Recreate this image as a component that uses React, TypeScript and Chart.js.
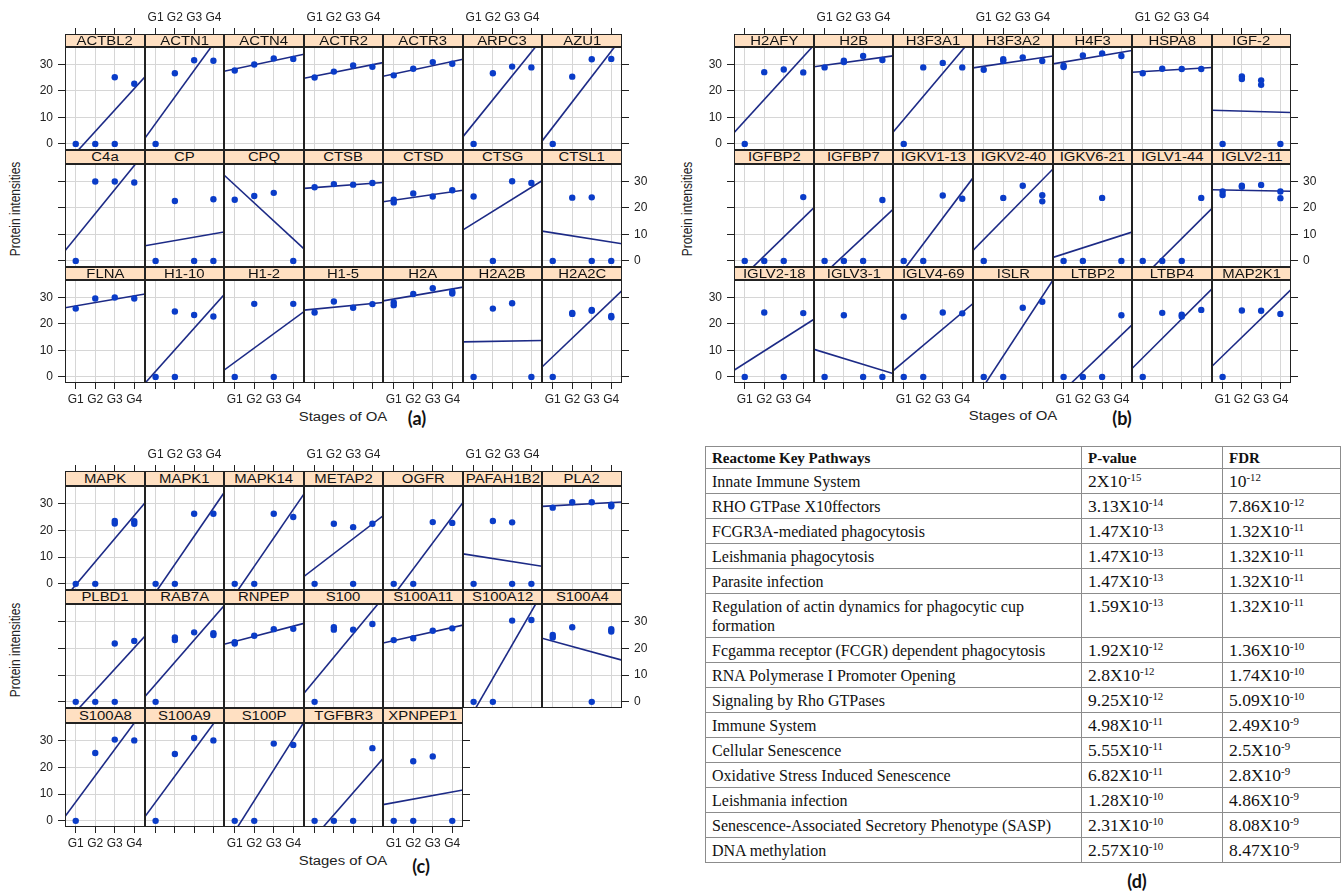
import React, { useEffect, useRef } from "react";
import { Chart, registerables } from "chart.js";

Chart.register(...registerables);

// ---------------- shared axis data ----------------
const STAGES = [1, 2, 3, 4];
const STAGE_LABELS = ["G1", "G2", "G3", "G4"];
const Y_TICKS = [0, 10, 20, 30];
const X_LIMITS = [0.45, 4.55];
const Y_LIMITS = [-2.3, 36.6];
const X_TITLE = "Stages of OA";
const Y_TITLE = "Protein intensities";

// ---------------- panel (a) ----------------
const proteinsA = ["ACTBL2", "ACTN1", "ACTN4", "ACTR2", "ACTR3", "ARPC3", "AZU1", "C4a", "CP", "CPQ", "CTSB", "CTSD", "CTSG", "CTSL1", "FLNA", "H1-10", "H1-2", "H1-5", "H2A", "H2A2B", "H2A2C"];
// intensities per stage G1..G4 (replicates listed inside each stage)
const intensitiesA: number[][][] = [
  [[0], [0], [25.2, 0], [22.7]],
  [[0], [26.7], [31.6], [31.4]],
  [[27.7], [30.0], [32.3], [32.1]],
  [[25.1], [27.3], [29.6], [29.1]],
  [[25.9], [28.4], [30.9], [30.3]],
  [[0], [26.7], [29.2], [28.9]],
  [[0], [25.4], [32.0], [32.1]],
  [[0], [30.0], [30.0], [29.6]],
  [[0], [22.6], [0], [23.3, 0]],
  [[23.1], [24.5], [25.7], [0]],
  [[27.8], [29.0], [28.8], [29.4]],
  [[23.1, 22.1], [25.5], [24.3], [26.7]],
  [[24.3], [0], [30.1], [29.4]],
  [[0], [23.9], [24.0, 0], [0]],
  [[25.8], [29.6], [30.0], [29.6]],
  [[0], [24.7, 0], [23.4], [22.8]],
  [[0], [27.6], [0], [27.6]],
  [[24.3], [28.5], [26.1], [27.5]],
  [[27.1, 28.1], [31.3], [33.5], [31.5, 32.2]],
  [[0], [25.8], [27.8], [0]],
  [[0], [24.2, 23.8], [25.3, 25.0], [23.0, 22.5]],
];
// fitted trend value at G1 and at G4
const fitA: number[][] = [
  [-3.4, 20.9], [7.7, 37.8], [28.3, 33.0], [25.6, 29.9], [26.4, 31.1], [7.7, 34.7], [6.3, 35.0],
  [8.8, 36.0], [6.4, 10.2], [28.7, 8.3], [27.7, 29.3], [22.9, 26.1], [14.2, 27.8], [10.6, 7.1],
  [26.8, 30.6], [2.1, 26.5], [5.5, 21.7], [25.6, 27.7], [29.4, 33.2], [13.3, 13.7], [7.6, 28.7],
];

// ---------------- panel (b) ----------------
const proteinsB = ["H2AFY", "H2B", "H3F3A1", "H3F3A2", "H4F3", "HSPA8", "IGF-2", "IGFBP2", "IGFBP7", "IGKV1-13", "IGKV2-40", "IGKV6-21", "IGLV1-44", "IGLV2-11", "IGLV2-18", "IGLV3-1", "IGLV4-69", "ISLR", "LTBP2", "LTBP4", "MAP2K1"];
const intensitiesB: number[][][] = [
  [[0], [27.1], [28.1], [27.0]],
  [[28.9], [31.4, 30.9], [33.2], [31.7]],
  [[0], [28.9], [30.6], [28.9]],
  [[28.0], [32.0, 31.3], [32.7], [31.3]],
  [[29.5, 29.0], [33.4], [34.2], [33.2]],
  [[26.7], [28.4], [28.3], [28.3]],
  [[0], [25.5, 24.5], [24.0, 22.3], [0]],
  [[0], [0], [0], [24.1]],
  [[0], [0], [0], [23.0]],
  [[0], [0], [24.7], [23.5]],
  [[0], [23.8], [28.4], [24.8, 22.5]],
  [[0], [0], [23.8], [0]],
  [[0], [0], [0], [23.8]],
  [[26.2, 24.9], [28.0, 28.4], [28.7], [26.2, 23.7]],
  [[0], [24.3], [0], [24.1]],
  [[0], [23.3], [0], [0]],
  [[22.7, 0], [0], [24.3], [24.0]],
  [[0], [0], [26.1], [28.4]],
  [[0], [0], [0], [23.3]],
  [[0], [24.2], [23.5, 22.8], [25.3]],
  [[0], [25.1], [25.0], [23.8]],
];
const fitB: number[][] = [
  [8.7, 32.9], [29.7, 32.7], [9.2, 35.4], [29.3, 32.6], [30.9, 34.6], [27.3, 28.6], [12.6, 12.0],
  [-5.3, 16.2], [-4.7, 15.7], [-3.4, 26.0], [8.1, 30.6], [2.6, 9.6], [-6.2, 15.8], [26.8, 26.4],
  [5.1, 19.2], [9.2, 2.5], [5.7, 24.3], [-3.4, 30.4], [-5.1, 15.8], [7.2, 29.2], [7.9, 29.1],
];

// ---------------- panel (c) ----------------
const proteinsC = ["MAPK", "MAPK1", "MAPK14", "METAP2", "OGFR", "PAFAH1B2", "PLA2", "PLBD1", "RAB7A", "RNPEP", "S100", "S100A11", "S100A12", "S100A4", "S100A8", "S100A9", "S100P", "TGFBR3", "XPNPEP1"];
const intensitiesC: number[][][] = [
  [[0], [0], [23.5, 22.6], [23.4, 22.5]],
  [[0], [0], [26.2], [26.2]],
  [[0], [0], [26.2], [25.0]],
  [[0], [22.5], [21.2, 0], [22.5]],
  [[0], [0], [23.1], [22.8]],
  [[0], [23.5], [23.0, 0], [0]],
  [[28.5], [30.5], [30.5], [29.6, 29.0]],
  [[0], [0], [21.8, 0], [22.8]],
  [[0], [24.1, 23.1], [26.0], [25.7, 25.0]],
  [[22.3, 21.8], [24.7], [27.2], [27.3]],
  [[0], [27.9, 27.0], [27.0], [29.1]],
  [[23.1], [23.8], [26.6], [27.5]],
  [[0], [0], [30.4], [30.6]],
  [[25.0, 24.1], [27.9], [0], [27.2, 26.3]],
  [[0], [25.4], [30.4], [30.1]],
  [[0], [25.0], [31.0], [30.1]],
  [[0], [0], [28.9], [28.4]],
  [[0], [0], [0], [27.2]],
  [[0], [22.3, 0], [24.1], [0]],
];
const fitC: number[][] = [
  [-0.4, 25.6], [-3.2, 28.3], [-4.1, 27.8], [5.8, 22.4], [-4.2, 25.1], [10.6, 7.2], [29.2, 30.4],
  [-3.7, 20.2], [6.6, 31.4], [22.6, 28.3], [8.0, 34.1], [22.9, 27.8], [-3.7, 33.8], [22.7, 16.7],
  [7.0, 36.6], [7.0, 36.3], [-4.0, 30.6], [-6.0, 18.8], [6.8, 10.8],
];

// ---------------- table (d) ----------------
const tableHeader = ["Reactome Key Pathways", "P-value", "FDR"];
const pathways = [
  "Innate Immune System",
  "RHO GTPase X10ffectors",
  "FCGR3A-mediated phagocytosis",
  "Leishmania phagocytosis",
  "Parasite infection",
  "Regulation of actin dynamics for phagocytic cup formation",
  "Fcgamma receptor (FCGR) dependent phagocytosis",
  "RNA Polymerase I Promoter Opening",
  "Signaling by Rho GTPases",
  "Immune System",
  "Cellular Senescence",
  "Oxidative Stress Induced Senescence",
  "Leishmania infection",
  "Senescence-Associated Secretory Phenotype (SASP)",
  "DNA methylation",
];
const pValues = ["2X10^-15", "3.13X10^-14", "1.47X10^-13", "1.47X10^-13", "1.47X10^-13", "1.59X10^-13", "1.92X10^-12", "2.8X10^-12", "9.25X10^-12", "4.98X10^-11", "5.55X10^-11", "6.82X10^-11", "1.28X10^-10", "2.31X10^-10", "2.57X10^-10"];
const fdrValues = ["10^-12", "7.86X10^-12", "1.32X10^-11", "1.32X10^-11", "1.32X10^-11", "1.32X10^-11", "1.36X10^-10", "1.74X10^-10", "5.09X10^-10", "2.49X10^-9", "2.5X10^-9", "2.8X10^-9", "4.86X10^-9", "8.08X10^-9", "8.47X10^-9"];

// ---------------- styling / layout ----------------
const INK = "#222222";
const GRID = "#d6d6d6";
const POINT = "#0a3cc8";
const LINE = "#1c2a86";
const STRIP_BG = "#ffe0c2";
const SANS = "'Liberation Sans', Arial, Helvetica, sans-serif";
const SERIF = "'Liberation Serif', 'Times New Roman', serif";
const TICK_FONT = { family: SANS, size: 12 };
const PER_ROW = 7;
const AXIS_W = 30;
const Y_TICK_LEN = 7;
const Y_TICK_PAD = 5;
const X_TICK_LEN = 6;
const X_TICK_PAD = 3;
const X_LABEL_H = 15;

type Geom = { left: number; colW: number; top: number; pitch: number; stripH: number; plotH: number; yTitleX: number; xTitleY: number; tag: string; tagX: number; tagY: number };
const GEOM_A: Geom = { left: 65.2, colW: 79.5, top: 33.5, pitch: 116.5, stripH: 13.5, plotH: 103, yTitleX: 15, xTitleY: 417, tag: "(a)", tagX: 417, tagY: 418 };
const GEOM_B: Geom = { left: 734, colW: 79.64, top: 33.5, pitch: 116.5, stripH: 13.5, plotH: 103, yTitleX: 687, xTitleY: 416, tag: "(b)", tagX: 1122, tagY: 418 };
const GEOM_C: Geom = { left: 65.2, colW: 79.5, top: 471, pitch: 118.5, stripH: 14.5, plotH: 104, yTitleX: 15, xTitleY: 861, tag: "(c)", tagX: 421, tagY: 866 };

const GROUPS = [
  { names: proteinsA, values: intensitiesA, fits: fitA, geom: GEOM_A },
  { names: proteinsB, values: intensitiesB, fits: fitB, geom: GEOM_B },
  { names: proteinsC, values: intensitiesC, fits: fitC, geom: GEOM_C },
];

type Flags = { top: boolean; topLabels: boolean; bottom: boolean; bottomLabels: boolean; left: boolean; leftLabels: boolean; right: boolean; rightLabels: boolean };

const framePlugin = {
  id: "panelFrame",
  afterDraw(chart: any) {
    const { ctx, chartArea: a } = chart;
    ctx.save();
    ctx.strokeStyle = INK;
    ctx.lineWidth = 1;
    ctx.strokeRect(a.left + 0.5, a.top + 0.5, a.right - a.left - 1, a.bottom - a.top - 1);
    ctx.restore();
  },
};

function stageLabel(v: any) {
  const i = STAGES.indexOf(Number(v));
  return i >= 0 ? STAGE_LABELS[i] : "";
}

function zeroPadding(s: any) {
  s.paddingLeft = 0;
  s.paddingRight = 0;
  s.paddingTop = 0;
  s.paddingBottom = 0;
}

function xScale(position: string, show: boolean, drawTicks: boolean, labels: boolean, tickLength: number, size: number, onArea: boolean) {
  return {
    type: "linear",
    position,
    display: show,
    min: X_LIMITS[0],
    max: X_LIMITS[1],
    afterBuildTicks: (s: any) => { s.ticks = STAGES.map((v) => ({ value: v })); },
    afterFit: (s: any) => { s.height = show ? size : 0; zeroPadding(s); },
    border: { display: false },
    grid: { display: true, drawOnChartArea: onArea, color: GRID, lineWidth: 1, drawTicks, tickLength, tickColor: INK, tickWidth: 1 },
    ticks: { display: labels, autoSkip: false, maxRotation: 0, minRotation: 0, padding: X_TICK_PAD, color: INK, font: TICK_FONT, callback: stageLabel },
  };
}

function yScale(position: string, show: boolean, drawTicks: boolean, labels: boolean, size: number, onArea: boolean) {
  return {
    type: "linear",
    position,
    display: show,
    min: Y_LIMITS[0],
    max: Y_LIMITS[1],
    afterBuildTicks: (s: any) => { s.ticks = Y_TICKS.map((v) => ({ value: v })); },
    afterFit: (s: any) => { s.width = show ? size : 0; zeroPadding(s); },
    border: { display: false },
    grid: { display: true, drawOnChartArea: onArea, color: GRID, lineWidth: 1, drawTicks, tickLength: Y_TICK_LEN, tickColor: INK, tickWidth: 1 },
    ticks: { display: labels, autoSkip: false, padding: Y_TICK_PAD, color: INK, font: TICK_FONT, callback: (v: any) => String(v) },
  };
}

type CellProps = { name: string; values: number[][]; fit: number[]; plotL: number; plotR: number; stripT: number; plotT: number; plotB: number; flags: Flags };

function Cell({ name, values, fit, plotL, plotR, stripT, plotT, plotB, flags }: CellProps) {
  const ref = useRef<HTMLCanvasElement>(null);
  const stripH = plotT - stripT;
  const topH = stripH + X_TICK_LEN + 4 + X_LABEL_H;
  const botH = X_TICK_LEN + X_TICK_PAD + X_LABEL_H;
  const cl = plotL - (flags.left ? AXIS_W : 0);
  const cr = plotR + (flags.right ? AXIS_W : 0);
  const ct = plotT - (flags.top ? topH : 0);
  const cb = plotB + (flags.bottom ? botH : 0);
  const w = cr - cl;
  const h = cb - ct;

  useEffect(() => {
    const points = values.flatMap((vals, i) => vals.map((v) => ({ x: STAGES[i], y: v })));
    const slope = (fit[1] - fit[0]) / (STAGES[STAGES.length - 1] - STAGES[0]);
    const trend = X_LIMITS.map((x) => ({ x, y: fit[0] + slope * (x - STAGES[0]) }));
    const chart = new Chart(ref.current as HTMLCanvasElement, {
      type: "scatter",
      data: {
        datasets: [
          { label: name, data: points, pointRadius: 3.2, pointHoverRadius: 3.2, backgroundColor: POINT, borderColor: POINT, borderWidth: 0, clip: false } as any,
          { label: name + " trend", data: trend, showLine: true, pointRadius: 0, borderColor: LINE, borderWidth: 1.6, fill: false, tension: 0, clip: 0 } as any,
        ],
      },
      options: {
        animation: false,
        responsive: false,
        maintainAspectRatio: false,
        devicePixelRatio: 1,
        events: [],
        layout: { padding: 0, autoPadding: false } as any,
        plugins: { legend: { display: false }, tooltip: { enabled: false }, title: { display: false } },
        scales: {
          x: xScale("bottom", true, flags.bottom, flags.bottomLabels, X_TICK_LEN, flags.bottom ? botH : 0, true),
          xTop: xScale("top", flags.top, flags.top, flags.topLabels, stripH + X_TICK_LEN, topH, false),
          y: yScale("left", true, flags.left, flags.leftLabels, flags.left ? AXIS_W : 0, true),
          yRight: yScale("right", flags.right, flags.right, flags.rightLabels, AXIS_W, false),
        } as any,
      },
      plugins: [framePlugin],
    });
    return () => chart.destroy();
  }, []);

  return (
    <>
      <canvas ref={ref} width={w} height={h} style={{ position: "absolute", left: cl, top: ct, width: w, height: h }} />
      <div
        style={{
          position: "absolute",
          left: plotL,
          top: stripT,
          width: plotR - plotL,
          height: stripH,
          boxSizing: "border-box",
          border: `1px solid ${INK}`,
          background: STRIP_BG,
          display: "flex",
          alignItems: "center",
          justifyContent: "center",
          overflow: "visible",
          zIndex: 2,
        }}
      >
        <span style={{ fontFamily: SANS, fontSize: 12, lineHeight: "12px", color: "#111", transform: "scaleX(1.24)", whiteSpace: "nowrap", display: "inline-block" }}>{name}</span>
      </div>
    </>
  );
}

function Lattice({ names, values, fits, geom }: { names: string[]; values: number[][][]; fits: number[][]; geom: Geom }) {
  const nRows = Math.ceil(names.length / PER_ROW);
  const cells = names.map((name, idx) => {
    const row = Math.floor(idx / PER_ROW);
    const col = idx % PER_ROW;
    const inRow = Math.min(PER_ROW, names.length - row * PER_ROW);
    const plotL = Math.round(geom.left + col * geom.colW);
    const plotR = Math.round(geom.left + (col + 1) * geom.colW);
    const stripT = Math.round(geom.top + row * geom.pitch);
    const plotT = Math.round(geom.top + row * geom.pitch + geom.stripH);
    const plotB = Math.round(geom.top + row * geom.pitch + geom.stripH + geom.plotH);
    const last = col === inRow - 1;
    const flags: Flags = {
      top: row === 0,
      topLabels: row === 0 && col % 2 === 1,
      bottom: row === nRows - 1,
      bottomLabels: row === nRows - 1 && col % 2 === 0,
      left: col === 0,
      leftLabels: col === 0 && row % 2 === 0,
      right: last,
      rightLabels: last && row % 2 === 1,
    };
    return <Cell key={name} name={name} values={values[idx]} fit={fits[idx]} plotL={plotL} plotR={plotR} stripT={stripT} plotT={plotT} plotB={plotB} flags={flags} />;
  });
  const centerX = geom.left + (PER_ROW * geom.colW) / 2;
  const midY = geom.top + geom.pitch + geom.stripH + geom.plotH / 2 - 6;
  return (
    <>
      {cells}
      <div style={{ position: "absolute", left: geom.yTitleX, top: midY, transform: "translate(-50%, -50%) rotate(-90deg) scaleY(1.24)", fontFamily: SANS, fontSize: 12, color: INK, whiteSpace: "nowrap" }}>{Y_TITLE}</div>
      <div style={{ position: "absolute", left: centerX, top: geom.xTitleY, transform: "translate(-50%, -50%) scaleX(1.24)", fontFamily: SANS, fontSize: 12, color: INK, whiteSpace: "nowrap" }}>{X_TITLE}</div>
      <div style={{ position: "absolute", left: geom.tagX, top: geom.tagY, transform: "translate(-50%, -50%)", fontFamily: "Lato, 'Open Sans', sans-serif", fontWeight: 700, fontSize: 18, color: "#111", whiteSpace: "nowrap" }}>{geom.tag}</div>
    </>
  );
}

const SUP: React.CSSProperties = { fontSize: "0.62em", verticalAlign: "baseline", position: "relative", top: "-0.6em", lineHeight: 0 };

function Sci({ text }: { text: string }) {
  const [base, exp] = text.split("^");
  return (
    <span>
      {base}
      {exp !== undefined && <sup style={SUP}>{exp}</sup>}
    </span>
  );
}

function PathwayTable() {
  const border = "1px solid #8c8c8c";
  const cell: React.CSSProperties = { border, padding: "3px 6px 2px 6px", verticalAlign: "top", lineHeight: "19px", textAlign: "left", overflow: "hidden" };
  return (
    <table style={{ position: "absolute", left: 705, top: 446, width: 635, borderCollapse: "collapse", fontFamily: SERIF, color: "#111", tableLayout: "fixed" }}>
      <colgroup>
        <col style={{ width: 376 }} />
        <col style={{ width: 141 }} />
        <col style={{ width: 118 }} />
      </colgroup>
      <thead>
        <tr>
          {tableHeader.map((t) => (
            <th key={t} style={{ ...cell, fontSize: 15, fontWeight: 700, lineHeight: "16px" }}>{t}</th>
          ))}
        </tr>
      </thead>
      <tbody>
        {pathways.map((p, i) => (
          <tr key={p}>
            <td style={{ ...cell, fontSize: 16 }}>{p}</td>
            <td style={{ ...cell, fontSize: 17.5 }}><Sci text={pValues[i]} /></td>
            <td style={{ ...cell, fontSize: 17.5 }}><Sci text={fdrValues[i]} /></td>
          </tr>
        ))}
      </tbody>
    </table>
  );
}

export default function App() {
  return (
    <div style={{ position: "absolute", left: 0, top: 0, width: 1343, height: 895, background: "#ffffff", overflow: "hidden" }}>
      {GROUPS.map((g, i) => (
        <Lattice key={i} names={g.names} values={g.values} fits={g.fits} geom={g.geom} />
      ))}
      <PathwayTable />
      <div style={{ position: "absolute", left: 1137, top: 881, transform: "translate(-50%, -50%)", fontFamily: "Lato, 'Open Sans', sans-serif", fontWeight: 700, fontSize: 18, color: "#111" }}>(d)</div>
    </div>
  );
}
